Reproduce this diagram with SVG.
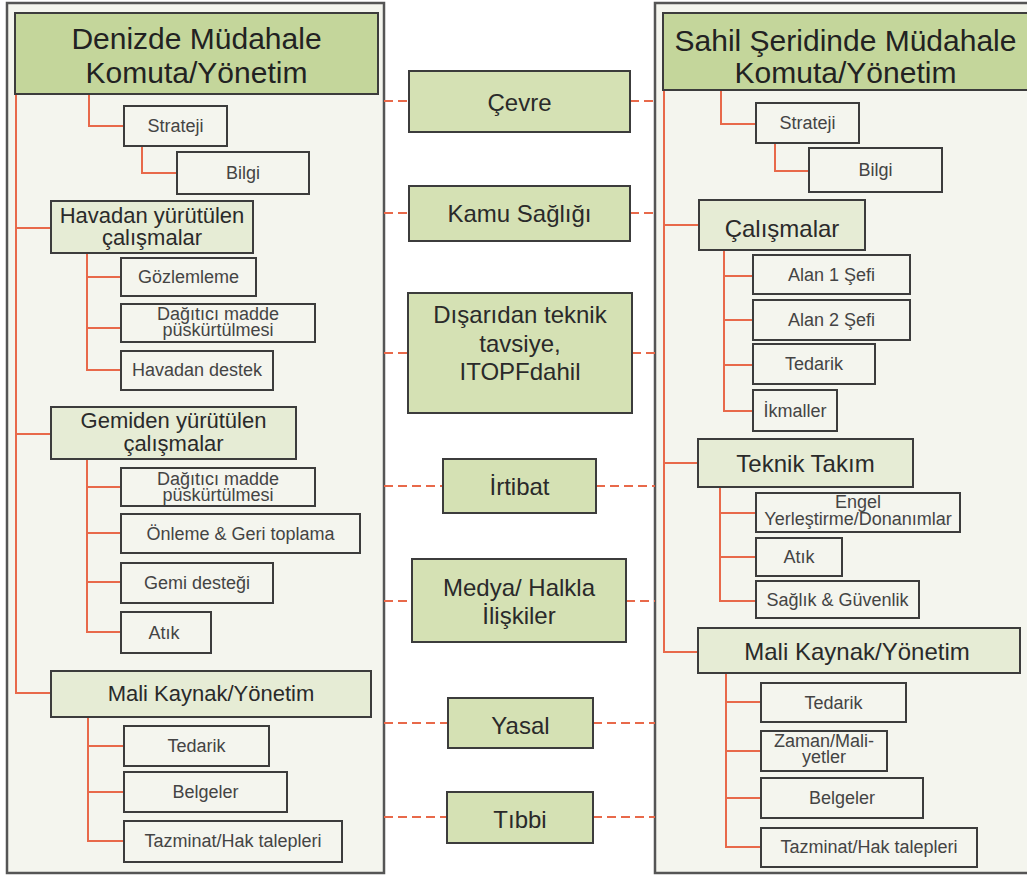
<svg xmlns="http://www.w3.org/2000/svg" width="1027" height="876" viewBox="0 0 1027 876">
<style>
.frame{fill:#f4f5ee;stroke:#555;stroke-width:2.5}
.hdr{fill:#c4d69b;stroke:#3c3c3c;stroke-width:2}
.mid{fill:#d5e1b4;stroke:#3c3c3c;stroke-width:2}
.grp{fill:#e6ecd5;stroke:#3c3c3c;stroke-width:2}
.box{fill:#f4f5ee;stroke:#3c3c3c;stroke-width:2}
text{font-family:"Liberation Sans",Arial,sans-serif;text-anchor:middle;fill:#333}
.th{font-size:30px;fill:#222}
.tm{font-size:24px;fill:#2a2a2a}
.tg{font-size:22px;fill:#2a2a2a}
.tg2{font-size:24px;fill:#2a2a2a}
.ts{font-size:18px;fill:#444}
.ln{fill:none;stroke:#e8694a;stroke-width:2}
.dl{fill:none;stroke:#e8694a;stroke-width:2;stroke-dasharray:9 5}
</style>
<rect class="frame" x="7" y="3" width="377" height="870"/>
<rect class="frame" x="655" y="3" width="385" height="870"/>
<g id="connectors">
<path class="ln" d="M16 94V693H51M89 94V126H124M142 146V173H177M16 228H51M87 253V370H121M87 277H121M87 328H121M16 434H51M87 459V632H121M87 487H121M87 533H121M87 582H121M88 717V841H124M88 746H124M88 792H124"/>
<path class="ln" d="M664 90V652H698M721 90V124H756M775 143V171H809M664 225H699M724 250V411H753M724 276H753M724 320H753M724 365H753M664 463H698M720 487V601H756M720 513H756M720 557H756M726 673V847H761M726 702H761M726 751H761M726 798H761"/>
<path class="dl" d="M384 101H409M630 101H655M384 213H409M630 213H655M384 353H408M632 353H655M384 486H443M596 486H655M384 601H412M626 601H655M384 723H448M593 723H655M384 817H447M593 817H655"/>
</g>
<g id="hdr-left"><rect class="hdr" x="15" y="13" width="363" height="81"/><text class="th" x="196.5" y="49">Denizde Müdahale</text><text class="th" x="196.5" y="83">Komuta/Yönetim</text></g>
<g id="l-strateji"><rect class="box" x="124" y="106" width="103" height="40"/><text class="ts" x="175.5" y="132">Strateji</text></g>
<g id="l-bilgi"><rect class="box" x="177" y="152" width="132" height="42"/><text class="ts" x="243" y="179">Bilgi</text></g>
<g id="l-havadan"><rect class="grp" x="51" y="201" width="202" height="52"/><text class="tg" x="152" y="223">Havadan yürütülen</text><text class="tg" x="152" y="245">çalışmalar</text></g>
<g id="l-gozlem"><rect class="box" x="121" y="258" width="135" height="38"/><text class="ts" x="188.5" y="283">Gözlemleme</text></g>
<g id="l-dagitici1"><rect class="box" x="121" y="304" width="194" height="38"/><text class="ts" x="218" y="320">Dağıtıcı madde</text><text class="ts" x="218" y="336">püskürtülmesi</text></g>
<g id="l-havadestek"><rect class="box" x="121" y="351" width="152" height="39"/><text class="ts" x="197" y="376">Havadan destek</text></g>
<g id="l-gemiden"><rect class="grp" x="51" y="407" width="245" height="52"/><text class="tg" x="173.5" y="428">Gemiden yürütülen</text><text class="tg" x="173.5" y="451">çalışmalar</text></g>
<g id="l-dagitici2"><rect class="box" x="121" y="468" width="194" height="38"/><text class="ts" x="218" y="485">Dağıtıcı madde</text><text class="ts" x="218" y="501">püskürtülmesi</text></g>
<g id="l-onleme"><rect class="box" x="121" y="514" width="239" height="39"/><text class="ts" x="240.5" y="540">Önleme &amp; Geri toplama</text></g>
<g id="l-gemidestek"><rect class="box" x="121" y="563" width="152" height="40"/><text class="ts" x="197" y="589">Gemi desteği</text></g>
<g id="l-atik"><rect class="box" x="121" y="612" width="90" height="41"/><text class="ts" x="164" y="639">Atık</text></g>
<g id="l-mali"><rect class="grp" x="51" y="671" width="320" height="46"/><text class="tg" x="211" y="701">Mali Kaynak/Yönetim</text></g>
<g id="l-tedarik"><rect class="box" x="124" y="726" width="145" height="40"/><text class="ts" x="196.5" y="752">Tedarik</text></g>
<g id="l-belgeler"><rect class="box" x="124" y="772" width="163" height="40"/><text class="ts" x="205.5" y="798">Belgeler</text></g>
<g id="l-tazminat"><rect class="box" x="124" y="821" width="218" height="41"/><text class="ts" x="233" y="847">Tazminat/Hak talepleri</text></g>
<g id="m-cevre"><rect class="mid" x="409" y="71" width="221" height="61"/><text class="tm" x="519.5" y="111">Çevre</text></g>
<g id="m-kamu"><rect class="mid" x="409" y="186" width="221" height="55"/><text class="tm" x="519.5" y="222">Kamu Sağlığı</text></g>
<g id="m-disaridan"><rect class="mid" x="408" y="293" width="224" height="120"/><text class="tm" x="520" y="323">Dışarıdan teknik</text><text class="tm" x="520" y="352">tavsiye,</text><text class="tm" x="520" y="380">ITOPFdahil</text></g>
<g id="m-irtibat"><rect class="mid" x="443" y="459" width="153" height="54"/><text class="tm" x="519.5" y="495">İrtibat</text></g>
<g id="m-medya"><rect class="mid" x="412" y="559" width="214" height="83"/><text class="tm" x="519" y="596">Medya/ Halkla</text><text class="tm" x="519" y="624">İlişkiler</text></g>
<g id="m-yasal"><rect class="mid" x="448" y="698" width="145" height="50"/><text class="tm" x="520.5" y="734">Yasal</text></g>
<g id="m-tibbi"><rect class="mid" x="447" y="792" width="146" height="51"/><text class="tm" x="520" y="828">Tıbbi</text></g>
<g id="hdr-right"><rect class="hdr" x="663" y="13" width="366" height="77"/><text class="th" x="845.5" y="51">Sahil Şeridinde Müdahale</text><text class="th" x="845.5" y="83">Komuta/Yönetim</text></g>
<g id="r-strateji"><rect class="box" x="756" y="103" width="103" height="40"/><text class="ts" x="807.5" y="129">Strateji</text></g>
<g id="r-bilgi"><rect class="box" x="809" y="148" width="133" height="44"/><text class="ts" x="875.5" y="176">Bilgi</text></g>
<g id="r-calismalar"><rect class="grp" x="699" y="200" width="166" height="50"/><text class="tg2" x="782" y="237">Çalışmalar</text></g>
<g id="r-alan1"><rect class="box" x="753" y="255" width="157" height="39"/><text class="ts" x="831.5" y="281">Alan 1 Şefi</text></g>
<g id="r-alan2"><rect class="box" x="753" y="300" width="157" height="40"/><text class="ts" x="831.5" y="326">Alan 2 Şefi</text></g>
<g id="r-tedarik1"><rect class="box" x="753" y="344" width="122" height="40"/><text class="ts" x="814" y="370">Tedarik</text></g>
<g id="r-ikmaller"><rect class="box" x="753" y="390" width="84" height="41"/><text class="ts" x="795" y="417">İkmaller</text></g>
<g id="r-teknik"><rect class="grp" x="698" y="439" width="215" height="48"/><text class="tg2" x="805.5" y="472">Teknik Takım</text></g>
<g id="r-engel"><rect class="box" x="756" y="493" width="204" height="39"/><text class="ts" x="858" y="508">Engel</text><text class="ts" x="858" y="525">Yerleştirme/Donanımlar</text></g>
<g id="r-atik"><rect class="box" x="756" y="538" width="86" height="38"/><text class="ts" x="799" y="563">Atık</text></g>
<g id="r-saglik"><rect class="box" x="756" y="581" width="163" height="37"/><text class="ts" x="837.5" y="606">Sağlık &amp; Güvenlik</text></g>
<g id="r-mali"><rect class="grp" x="698" y="628" width="322" height="45"/><text class="tg2" x="857" y="660">Mali Kaynak/Yönetim</text></g>
<g id="r-tedarik2"><rect class="box" x="761" y="683" width="145" height="39"/><text class="ts" x="833.5" y="709">Tedarik</text></g>
<g id="r-zaman"><rect class="box" x="761" y="731" width="126" height="40"/><text class="ts" x="824" y="747">Zaman/Mali-</text><text class="ts" x="824" y="763">yetler</text></g>
<g id="r-belgeler"><rect class="box" x="761" y="778" width="162" height="40"/><text class="ts" x="842" y="804">Belgeler</text></g>
<g id="r-tazminat"><rect class="box" x="761" y="828" width="216" height="39"/><text class="ts" x="869" y="853">Tazminat/Hak talepleri</text></g>
</svg>
